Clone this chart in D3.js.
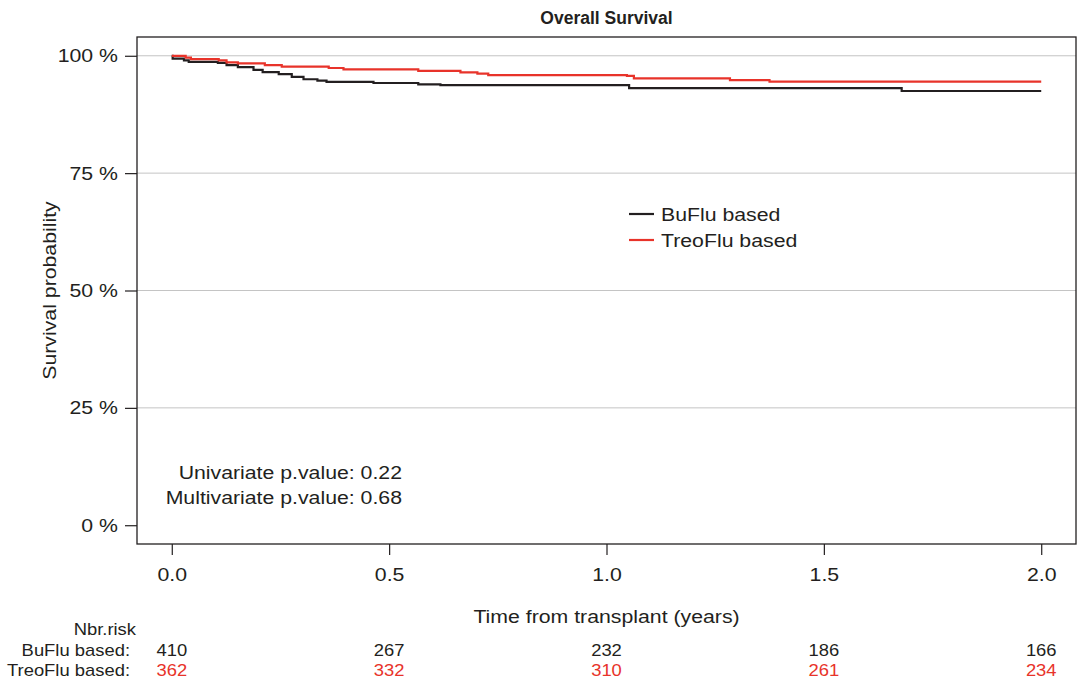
<!DOCTYPE html>
<html>
<head>
<meta charset="utf-8">
<script src="https://cdn.jsdelivr.net/npm/d3@7"></script>
<style>
  body { margin: 0; background: #fff; }
  svg { display: block; font-family: "Liberation Sans", Arial, sans-serif; }
</style>
</head>
<body>
<svg id="km" width="1077" height="682"></svg>
<script>
// Kaplan-Meier steps (time in years, survival fraction)
const buTime = [0, 0.002, 0.028, 0.039, 0.106, 0.126, 0.152, 0.188, 0.209, 0.246, 0.276, 0.303, 0.335, 0.356, 0.464, 0.567, 0.618, 1.052, 1.679, 2.0];
const buSurv = [1.0, 0.994, 0.990, 0.987, 0.985, 0.980, 0.976, 0.970, 0.965, 0.961, 0.955, 0.950, 0.947, 0.9445, 0.942, 0.939, 0.9375, 0.931, 0.925, 0.925];

const treoTime = [0, 0.032, 0.044, 0.108, 0.126, 0.152, 0.214, 0.253, 0.361, 0.395, 0.567, 0.664, 0.703, 0.728, 1.047, 1.063, 1.284, 1.375, 2.0];
const treoSurv = [1.0, 0.996, 0.993, 0.990, 0.986, 0.984, 0.980, 0.977, 0.974, 0.971, 0.968, 0.9645, 0.962, 0.959, 0.957, 0.952, 0.948, 0.945, 0.945];

const xTicks = [0, 0.5, 1.0, 1.5, 2.0];
const yTicks = [0, 0.25, 0.5, 0.75, 1.0];
const riskBu = [410, 267, 232, 186, 166];
const riskTreo = [362, 332, 310, 261, 234];
const groups = ["BuFlu based", "TreoFlu based"];
const pValues = ["Univariate p.value: 0.22", "Multivariate p.value: 0.68"];

const black = "#231f20";
const red = "#e8332a";
const stretch = 1.15; // the original text is drawn wider than Liberation Sans

const svg = d3.select("#km");
const box = { left: 137, right: 1076, top: 37, bottom: 544 };

// R style: 4% padding on both axes
const x = d3.scaleLinear().domain([-0.08, 2.08]).range([box.left, box.right]);
const y = d3.scaleLinear().domain([-0.04, 1.04]).range([box.bottom, box.top]);

// text helper, stretched horizontally around its anchor
function label(parent, tx, ty, str, size, anchor, color) {
    return parent.append("text")
        .attr("transform", `translate(${tx},${ty}) scale(${stretch},1)`)
        .attr("text-anchor", anchor)
        .attr("font-size", size + "px")
        .attr("fill", color || black)
        .text(str);
}

// grid lines
svg.append("g")
    .selectAll("line")
    .data(yTicks.filter(d => d > 0))
    .enter()
    .append("line")
    .attr("x1", box.left)
    .attr("x2", box.right)
    .attr("y1", d => y(d))
    .attr("y2", d => y(d))
    .attr("stroke", "#c4c4c4")
    .attr("stroke-width", 1);

// frame
svg.append("rect")
    .attr("x", box.left)
    .attr("y", box.top)
    .attr("width", box.right - box.left)
    .attr("height", box.bottom - box.top)
    .attr("fill", "none")
    .attr("stroke", black)
    .attr("stroke-width", 1.3);

// axes
const yAxis = d3.axisLeft(y)
    .tickValues(yTicks)
    .tickSize(12)
    .tickPadding(7)
    .tickFormat(d => Math.round(d * 100) + " %");
const gy = svg.append("g")
    .attr("transform", `translate(${box.left},0)`)
    .call(yAxis);

const xAxis = d3.axisBottom(x)
    .tickValues(xTicks)
    .tickSize(11)
    .tickPadding(13)
    .tickFormat(d3.format(".1f"));
const gx = svg.append("g")
    .attr("transform", `translate(0,${box.bottom})`)
    .call(xAxis);

[gx, gy].forEach(g => {
    g.select(".domain").remove();
    g.selectAll(".tick line").attr("stroke", black).attr("stroke-width", 1.2);
    g.selectAll(".tick text")
        .attr("fill", black)
        .attr("font-size", "18.5px")
        .attr("font-family", "Liberation Sans, Arial, sans-serif")
        .each(function () {
            const t = d3.select(this);
            const tx = +t.attr("x") || 0, ty = +t.attr("y") || 0;
            t.attr("x", 0).attr("y", 0)
                .attr("transform", `translate(${tx},${ty}) scale(${stretch},1)`);
        });
});

// survival curves
const line = d3.line()
    .x(d => x(d[0]))
    .y(d => y(d[1]))
    .curve(d3.curveStepAfter);

svg.append("path")
    .datum(d3.zip(buTime, buSurv))
    .attr("d", line)
    .attr("fill", "none")
    .attr("stroke", black)
    .attr("stroke-width", 2.2);

svg.append("path")
    .datum(d3.zip(treoTime, treoSurv))
    .attr("d", line)
    .attr("fill", "none")
    .attr("stroke", red)
    .attr("stroke-width", 2.2);

// title and axis labels
svg.append("text")
    .attr("x", (box.left + box.right) / 2)
    .attr("y", 24)
    .attr("text-anchor", "middle")
    .attr("font-size", "17.5px")
    .attr("font-weight", "bold")
    .attr("fill", black)
    .text("Overall Survival");

label(svg, (box.left + box.right) / 2, 623, "Time from transplant (years)", 18.5, "middle");

svg.append("text")
    .attr("transform", `translate(56,${(box.top + box.bottom) / 2}) rotate(-90) scale(${stretch},1)`)
    .attr("text-anchor", "middle")
    .attr("font-size", "18.5px")
    .attr("fill", black)
    .text("Survival probability");

// legend
const legend = svg.append("g");
[black, red].forEach((c, i) => {
    const ly = 214 + i * 26;
    legend.append("line")
        .attr("x1", 629).attr("x2", 654)
        .attr("y1", ly).attr("y2", ly)
        .attr("stroke", c)
        .attr("stroke-width", 2.2);
    label(legend, 661, ly + 6.5, groups[i], 18.5, "start");
});

// p-values
pValues.forEach((t, i) => {
    label(svg, 402, 478.5 + i * 25, t, 18.5, "end");
});

// number at risk table
label(svg, 136, 635, "Nbr.risk", 16, "end");

[riskBu, riskTreo].forEach((row, i) => {
    const ry = 656 + i * 20;
    label(svg, 130, ry, groups[i] + ":", 16, "end");
    const g = svg.append("g");
    row.forEach((d, j) => {
        label(g, x(xTicks[j]), ry, d, 16, "middle", i === 0 ? black : red);
    });
});
</script>
</body>
</html>
